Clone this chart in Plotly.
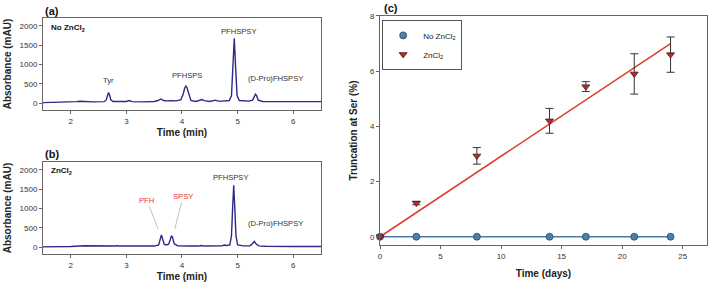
import plotly.graph_objects as go

# ---- Panel (a): chromatogram, no ZnCl2 ----
time_a = [1.5, 1.8, 2.0, 2.1, 2.17, 2.25, 2.4, 2.6, 2.64, 2.66, 2.68, 2.70, 2.72, 2.76,
          2.9, 3.0, 3.05, 3.1, 3.3, 3.5, 3.57, 3.62, 3.67, 3.72, 3.8, 3.9, 3.98, 4.02,
          4.05, 4.07, 4.09, 4.12, 4.16, 4.25, 4.32, 4.36, 4.40, 4.5, 4.6, 4.65, 4.72,
          4.8, 4.85, 4.89, 4.915, 4.94, 4.965, 4.99, 5.03, 5.1, 5.2, 5.27, 5.30, 5.32,
          5.34, 5.37, 5.45, 5.7, 6.0, 6.5]
abs_a = [15, 20, 30, 40, 50, 40, 35, 40, 90, 200, 275, 200, 90, 45,
         35, 45, 70, 40, 35, 45, 70, 110, 70, 60, 65, 60, 90, 230,
         400, 445, 400, 230, 70, 45, 70, 95, 65, 45, 80, 55, 55,
         75, 70, 200, 900, 1675, 900, 200, 70, 70, 55, 80, 200, 232,
         200, 80, 45, 40, 40, 40]

# ---- Panel (b): chromatogram, ZnCl2 ----
time_b = [1.5, 1.8, 2.0, 2.25, 2.45, 2.6, 2.8, 2.83, 2.86, 3.0, 3.1, 3.13, 3.16, 3.3,
          3.5, 3.58, 3.61, 3.63, 3.65, 3.68, 3.72, 3.76, 3.79, 3.81, 3.83, 3.86, 3.92,
          4.0, 4.07, 4.15, 4.3, 4.35, 4.4, 4.6, 4.72, 4.76, 4.80, 4.86, 4.89, 4.91,
          4.93, 4.95, 4.97, 5.0, 5.1, 5.22, 5.26, 5.30, 5.33, 5.38, 5.5, 6.0, 6.5]
abs_b = [10, 10, 20, 40, 30, 30, 30, 45, 30, 30, 35, 50, 35, 30,
         30, 60, 200, 320, 220, 80, 60, 80, 200, 300, 250, 90, 40,
         30, 40, 30, 30, 45, 30, 30, 35, 55, 45, 60, 300, 1000,
         1600, 1000, 300, 60, 35, 35, 80, 150, 90, 35, 25, 20, 20]

chrom_xticks = [2, 3, 4, 5, 6]
chrom_yticks = [0, 500, 1000, 1500, 2000]

# ---- Panel (c): truncation vs time ----
days = [0, 3, 8, 14, 17, 21, 24]
trunc_no_zn = [0, 0, 0, 0, 0, 0, 0]
trunc_zn = [0, 1.22, 2.93, 4.2, 5.44, 5.9, 6.6]
err_zn = [0, 0.06, 0.3, 0.45, 0.18, 0.73, 0.64]
fit_days = [0, 24]
fit_no_zn = [0, 0]
fit_zn = [0, 7.0]
c_xticks = [0, 5, 10, 15, 20, 25]
c_yticks = [0, 2, 4, 6, 8]

navy = "#2d2b85"
red_txt = "#e8303c"
axis_col = "#666666"
FAM = "Liberation Sans, Arial, sans-serif"
tick_font = dict(family=FAM, size=8, color="#333333")
title_font = dict(family=FAM, size=10, color="#222222")
lab_font = dict(family=FAM, size=7.6, color="#333333")

fig = go.Figure()
fig.add_trace(go.Scatter(x=time_a, y=abs_a, mode="lines", line=dict(color=navy, width=1.4),
                         xaxis="x", yaxis="y", showlegend=False, hoverinfo="skip"))
fig.add_trace(go.Scatter(x=time_b, y=abs_b, mode="lines", line=dict(color=navy, width=1.4),
                         xaxis="x2", yaxis="y2", showlegend=False, hoverinfo="skip"))

# fit lines
fig.add_trace(go.Scatter(x=fit_days, y=fit_zn, mode="lines", line=dict(color="#d8402e", width=1.6),
                         xaxis="x3", yaxis="y3", showlegend=False))
fig.add_trace(go.Scatter(x=fit_days, y=fit_no_zn, mode="lines", line=dict(color="#4a7aae", width=1.6),
                         xaxis="x3", yaxis="y3", showlegend=False))
# data points
fig.add_trace(go.Scatter(x=days, y=trunc_no_zn, mode="markers", name="No ZnCl<sub>2</sub>",
                         marker=dict(symbol="circle", size=7, color="#4f7ea8",
                                     line=dict(color="#2c4a66", width=0.8)),
                         xaxis="x3", yaxis="y3", cliponaxis=False))
fig.add_trace(go.Scatter(x=days, y=trunc_zn, mode="markers", name="ZnCl<sub>2</sub>",
                         marker=dict(symbol="triangle-down", size=7, color="#a8302e",
                                     line=dict(color="#5a1818", width=0.8)),
                         error_y=dict(type="data", array=err_zn, color="#333333",
                                      thickness=1, width=4),
                         xaxis="x3", yaxis="y3", cliponaxis=False))

common = dict(showline=True, mirror=True, linecolor=axis_col, linewidth=1,
              ticks="outside", ticklen=3, tickcolor=axis_col, tickfont=tick_font,
              showgrid=False, zeroline=False, automargin=False)

def chrom_axes(dom_y, anchor_x, anchor_y):
    xa = dict(domain=[0.0606, 0.4528], anchor=anchor_y, range=[1.5, 6.5],
              tickvals=chrom_xticks,
              title=dict(text="<b>Time (min)</b>", font=title_font, standoff=4), **common)
    ya = dict(domain=dom_y, anchor=anchor_x, range=[-175, 2200],
              tickvals=chrom_yticks,
              title=dict(text="<b>Absorbance (mAU)</b>", font=title_font, standoff=6), **common)
    return xa, ya

xa1, ya1 = chrom_axes([0.6127, 0.9366], "x", "y")
xa2, ya2 = chrom_axes([0.1056, 0.4296], "x2", "y2")

fig.update_layout(
    width=709, height=284,
    margin=dict(l=0, r=0, t=0, b=0),
    paper_bgcolor="white", plot_bgcolor="white",
    font=dict(family=FAM),
    xaxis=xa1, yaxis=ya1, xaxis2=xa2, yaxis2=ya2,
    xaxis3=dict(domain=[0.536, 0.997], anchor="y3", range=[0, 27], tickvals=c_xticks,
                title=dict(text="<b>Time (days)</b>", font=title_font, standoff=10), **common),
    yaxis3=dict(domain=[0.1373, 0.9437], anchor="x3", range=[-0.3, 8], tickvals=c_yticks,
                title=dict(text="<b>Truncation at Ser (%)</b>", font=title_font, standoff=10), **common),
    legend=dict(x=0.539, y=0.93, xanchor="left", yanchor="top", bgcolor="white",
                bordercolor="#555555", borderwidth=1, font=dict(family=FAM, size=8, color="#222222"),
                tracegroupgap=0, itemwidth=30),
    showlegend=True,
)

ann = []
# panel letters
ann.append(dict(text="<b>(a)</b>", x=43, y=11, xref="paper", yref="paper"))
ann.append(dict(text="<b>(b)</b>", x=43, y=154, xref="paper", yref="paper"))
ann.append(dict(text="<b>(c)</b>", x=382, y=8, xref="paper", yref="paper"))
for a in ann:
    a.update(x=a["x"] / 709, y=1 - a["y"] / 284, xanchor="left", yanchor="middle",
             showarrow=False, font=dict(family=FAM, size=11, color="#111111"))

ann += [
    dict(text="<b>No ZnCl<sub>2</sub></b>", x=1.6, y=1935, xref="x", yref="y", xanchor="left",
         showarrow=False, font=dict(family=FAM, size=8, color="#111111")),
    dict(text="Tyr", x=2.67, y=582, xref="x", yref="y", showarrow=False, font=lab_font),
    dict(text="PFHSPS", x=4.09, y=703, xref="x", yref="y", showarrow=False, font=lab_font),
    dict(text="PFHSPSY", x=5.01, y=1845, xref="x", yref="y", showarrow=False, font=lab_font),
    dict(text="(D-Pro)FHSPSY", x=5.68, y=644, xref="x", yref="y", showarrow=False, font=lab_font),
    dict(text="<b>ZnCl<sub>2</sub></b>", x=1.6, y=1975, xref="x2", yref="y2", xanchor="left",
         showarrow=False, font=dict(family=FAM, size=8, color="#111111")),
    dict(text="PFHSPSY", x=4.87, y=1804, xref="x2", yref="y2", showarrow=False, font=lab_font),
    dict(text="(D-Pro)FHSPSY", x=5.68, y=600, xref="x2", yref="y2", showarrow=False, font=lab_font),
    dict(text="PFH", x=3.57, y=474, ax=3.37, ay=1211, xref="x2", yref="y2", axref="x2", ayref="y2",
         showarrow=True, arrowhead=0, arrowwidth=0.8, arrowcolor="#b0b0b0", standoff=0,
         font=dict(family=FAM, size=7.6, color=red_txt)),
    dict(text="SPSY", x=3.87, y=474, ax=4.02, ay=1314, xref="x2", yref="y2", axref="x2", ayref="y2",
         showarrow=True, arrowhead=0, arrowwidth=0.8, arrowcolor="#b0b0b0", standoff=0,
         font=dict(family=FAM, size=7.6, color=red_txt)),
]
fig.update_layout(annotations=ann)
fig.write_html("out.html", config={"displayModeBar": False},
               post_script="document.body.style.margin='0';document.body.style.padding='0';")
